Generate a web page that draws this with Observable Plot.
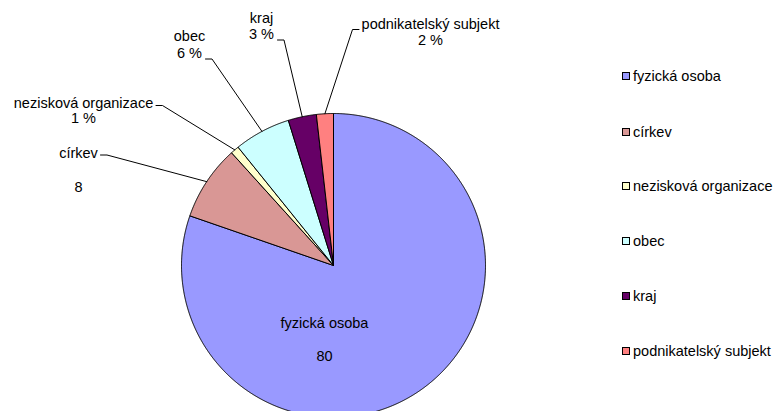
<!DOCTYPE html>
<html>
<head>
<meta charset="utf-8">
<script src="https://cdn.jsdelivr.net/npm/d3@7"></script>
<script src="https://cdn.jsdelivr.net/npm/@observablehq/plot@0.6"></script>
<style>
  html, body { margin: 0; padding: 0; background: #fff; }
  #wrap { position: relative; width: 778px; height: 411px; overflow: hidden; font-family: "Liberation Sans", Arial, sans-serif; }
  #legend { position: absolute; left: 622px; top: 0; }
  .item { position: absolute; left: 0; white-space: nowrap; font-size: 14.5px; line-height: 16px; color: #000; display: flex; align-items: center; }
  .sw { width: 6px; height: 6px; border: 1px solid #000; margin-right: 3px; }
</style>
</head>
<body>
<div id="wrap"><div id="legend"></div></div>
<script>
// ---- data ----
const categories = ["fyzická osoba", "církev", "nezisková organizace", "obec", "kraj", "podnikatelský subjekt"];
const values = [80.3, 8.0, 0.9, 6.0, 3.0, 1.8];
const colors = ["#9999FF", "#D99795", "#FFFFCC", "#CCFFFF", "#660066", "#FF8080"];
const valueSuffix = ["", "", " %", " %", " %", " %"];

// ---- layout (pixels) ----
const W = 778, H = 411, CX = 333, CY = 265, R = 152;
// label placement: [centerX, baseline of line 1, baseline of line 2, kneeX, kneeY, tickDir]
const labelLayout = [
  [324, 327, 360, null, null, 0],
  [78, 157, 191, 106.5, 154.5, -1],
  [83, 107, 122, 162, 105, -1],
  [189, 40, 57, 211.5, 58.5, -1],
  [261, 22, 38, 283.5, 39.5, -1],
  [430, 28, 44, 352, 29, 1]
];
const legendCenters = [76, 131.5, 186, 241, 296, 350.5];

const ux = px => (px - CX) / R;
const uy = py => (CY - py) / R;

const pie = d3.pie().sort(null).value(d => d.value);
const arcs = pie(categories.map((c, i) => ({category: c, value: values[i], i})));

function slicePoints(a) {
  const pts = [{x: 0, y: 0}];
  const n = Math.max(4, Math.ceil((a.endAngle - a.startAngle) / 0.005));
  for (let k = 0; k <= n; k++) {
    const t = a.startAngle + (a.endAngle - a.startAngle) * k / n;
    pts.push({x: Math.sin(t), y: Math.cos(t)});
  }
  pts.push({x: 0, y: 0});
  return pts;
}

const marks = arcs.map((a, i) =>
  Plot.line(slicePoints(a), {x: "x", y: "y", fill: colors[i], stroke: "#000", strokeWidth: 1, curve: "linear", strokeLinejoin: "miter"})
);

// leader lines
const leaders = [];
arcs.forEach((a, i) => {
  const L = labelLayout[i];
  if (L[3] == null) return;
  const mid = (a.startAngle + a.endAngle) / 2;
  leaders.push({k: i, x: ux(L[3] + L[5] * 6.5), y: uy(L[4])});
  leaders.push({k: i, x: ux(L[3]), y: uy(L[4])});
  leaders.push({k: i, x: Math.sin(mid), y: Math.cos(mid)});
});
marks.push(Plot.line(leaders, {x: "x", y: "y", z: "k", stroke: "#000", strokeWidth: 1, curve: "linear"}));

// labels
const labelLines = [];
arcs.forEach((a, i) => {
  const L = labelLayout[i];
  labelLines.push({x: ux(L[0]), y: uy(L[1]), text: categories[i]});
  labelLines.push({x: ux(L[0]), y: uy(L[2]), text: `${Math.round(values[i])}${valueSuffix[i]}`});
});
marks.push(Plot.text(labelLines, {x: "x", y: "y", text: "text", textAnchor: "middle", lineAnchor: "bottom", fontSize: 14.5, fill: "#000", fontFamily: "Liberation Sans, Arial, sans-serif"}));

const chart = Plot.plot({
  width: W, height: H,
  margin: 0,
  x: {domain: [ux(0), ux(W)], axis: null},
  y: {domain: [uy(H), uy(0)], axis: null},
  style: {background: "#fff", fontFamily: "Liberation Sans, Arial, sans-serif", overflow: "hidden"},
  marks
});
document.getElementById("wrap").prepend(chart);
chart.style.position = "absolute"; chart.style.left = "0"; chart.style.top = "0";

// legend
const legend = document.getElementById("legend");
categories.forEach((c, i) => {
  const it = document.createElement("div");
  it.className = "item";
  it.style.top = (legendCenters[i] - 8) + "px";
  const sw = document.createElement("span");
  sw.className = "sw"; sw.style.background = colors[i];
  it.appendChild(sw);
  it.appendChild(document.createTextNode(c));
  legend.appendChild(it);
});
</script>
</body>
</html>
